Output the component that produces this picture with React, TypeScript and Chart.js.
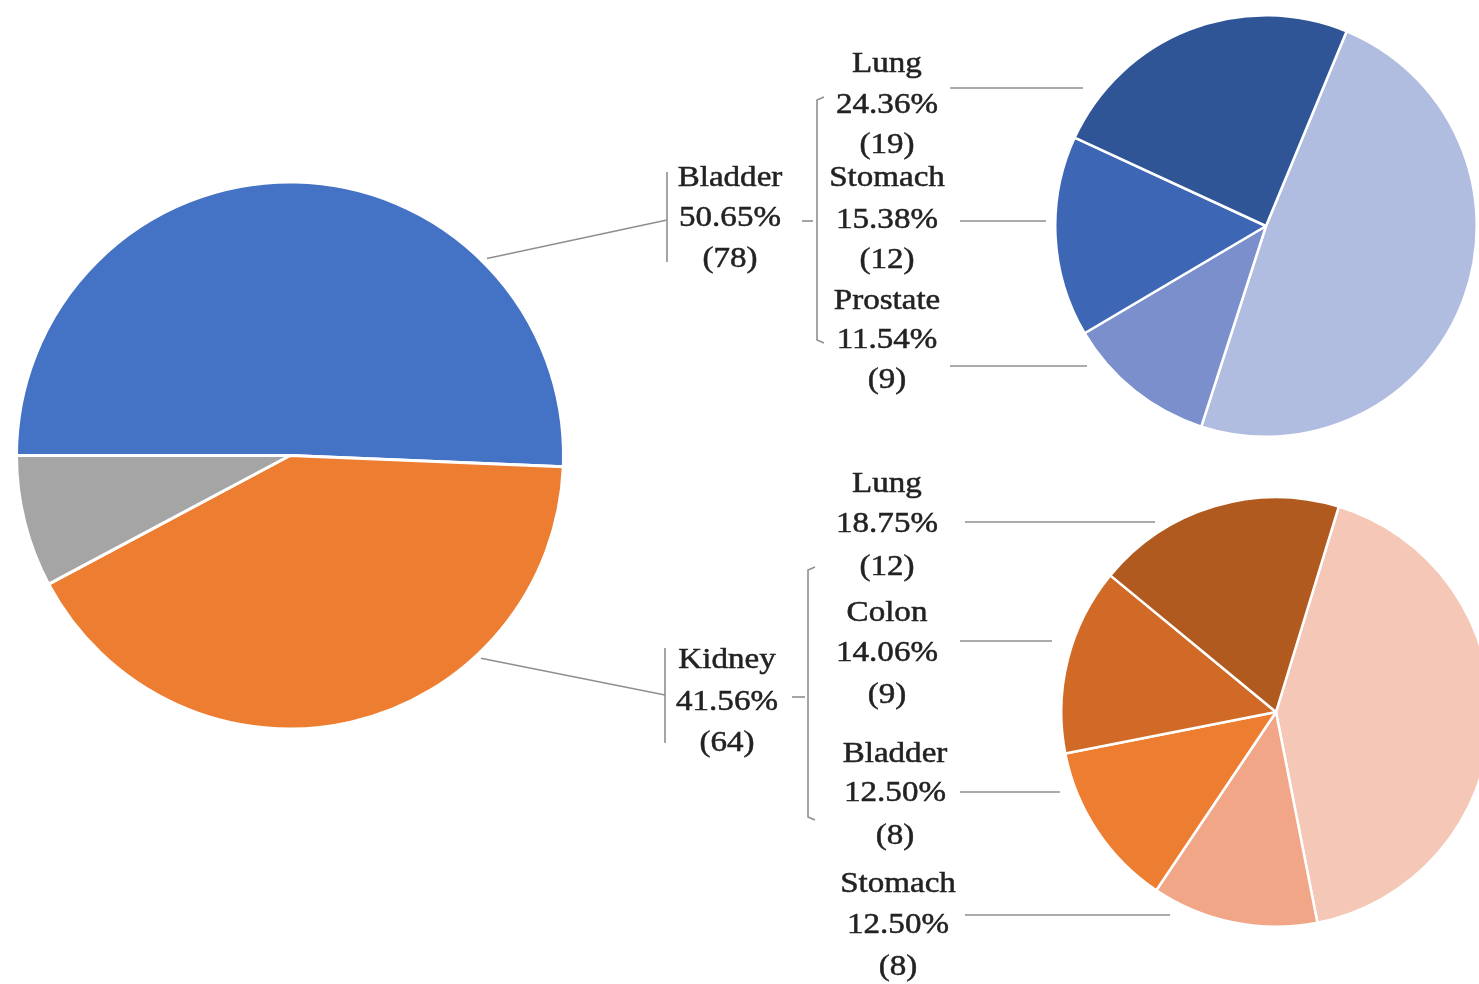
import { useEffect, useRef } from "react";
import { Chart, registerables } from "chart.js";

Chart.register(...registerables);

// ---------- data ----------
const mainCategories = ["Bladder", "Kidney", "Other"];
const mainCounts = [78, 64, 12];
const mainColors = ["#4472C4", "#ED7D31", "#A5A5A5"];

const bladderCategories = ["Other", "Prostate", "Stomach", "Lung"];
const bladderCounts = [38, 9, 12, 19];
const bladderColors = ["#B1BDE0", "#7A8FCC", "#3D67B5", "#2F5597"];
const bladderLabelOrder = ["Lung", "Stomach", "Prostate"];

const kidneyCategories = ["Other", "Stomach", "Bladder", "Colon", "Lung"];
const kidneyCounts = [27, 8, 8, 9, 12];
const kidneyColors = ["#F5C7B6", "#F0A687", "#ED7D31", "#D26A27", "#B05A1F"];
const kidneyLabelOrder = ["Lung", "Colon", "Bladder", "Stomach"];

// ---------- layout ----------
const W = 1479;
const H = 984;
const FONT_PX = 29;
const SCALE_X = 1.14;
const TEXT_COLOR = "#222222";
const LINE_COLOR = "#8f8f8f";

const bladderMainPos = { x: 730, ys: [178, 218, 259] };
const bladderSubPos = [
  { x: 887, ys: [64, 105, 145], leader: [950, 1083, 88] },
  { x: 887, ys: [178, 220, 260], leader: [960, 1046, 221] },
  { x: 887, ys: [301, 340, 380], leader: [950, 1087, 366] },
];
const bladderBrackets = {
  leftX: 667, leftY: [172, 262], joinY: 220, angle: -45,
  tick: [802, 813, 221],
  rightX: 817, rightY: [97, 343],
};

const kidneyMainPos = { x: 727, ys: [660, 702, 743] };
const kidneySubPos = [
  { x: 887, ys: [484, 524, 567], leader: [965, 1155, 522] },
  { x: 887, ys: [613, 653, 695], leader: [960, 1052, 641] },
  { x: 895, ys: [754, 793, 836], leader: [960, 1060, 792] },
  { x: 898, ys: [884, 925, 967], leader: [965, 1170, 915] },
];
const kidneyBrackets = {
  leftX: 665, leftY: [648, 743], joinY: 695, angle: 46.7,
  tick: [792, 805, 697],
  rightX: 808, rightY: [567, 820],
};

const pct = (v: number, arr: number[]) =>
  ((v / arr.reduce((a, b) => a + b, 0)) * 100).toFixed(2) + "%";

function drawText(ctx: CanvasRenderingContext2D, text: string, x: number, y: number) {
  ctx.save();
  ctx.translate(x, y);
  ctx.scale(SCALE_X, 1);
  ctx.strokeText(text, 0, 0);
  ctx.fillText(text, 0, 0);
  ctx.restore();
}

function line(ctx: CanvasRenderingContext2D, pts: number[][]) {
  ctx.beginPath();
  ctx.moveTo(pts[0][0], pts[0][1]);
  for (let i = 1; i < pts.length; i++) ctx.lineTo(pts[i][0], pts[i][1]);
  ctx.stroke();
}

const annotPlugin = {
  id: "annotations",
  afterDraw(chart: any) {
    const ctx: CanvasRenderingContext2D = chart.ctx;
    const arc = chart.getDatasetMeta(0).data[0] as any;
    const cx = arc.x;
    const cy = arc.y;
    const r = arc.outerRadius;

    const group = (
      mainIdx: number,
      mainPos: { x: number; ys: number[] },
      br: any,
      cats: string[],
      counts: number[],
      order: string[],
      subPos: { x: number; ys: number[]; leader: number[] }[]
    ) => {
      ctx.save();
      ctx.strokeStyle = LINE_COLOR;
      ctx.lineWidth = 1.6;
      const a = (br.angle * Math.PI) / 180;
      const sx = cx + (r + 5) * Math.cos(a);
      const sy = cy + (r + 5) * Math.sin(a);
      line(ctx, [[sx, sy], [br.leftX, br.joinY]]);
      line(ctx, [[br.leftX, br.leftY[0]], [br.leftX, br.leftY[1]]]);
      line(ctx, [[br.tick[0], br.tick[2]], [br.tick[1], br.tick[2]]]);
      line(ctx, [
        [br.rightX + 7, br.rightY[0]],
        [br.rightX, br.rightY[0] + 3],
        [br.rightX, br.rightY[1] - 3],
        [br.rightX + 7, br.rightY[1]],
      ]);
      order.forEach((_, k) => {
        const p = subPos[k];
        line(ctx, [[p.leader[0], p.leader[2]], [p.leader[1], p.leader[2]]]);
      });
      ctx.restore();

      ctx.save();
      ctx.fillStyle = TEXT_COLOR;
      ctx.strokeStyle = TEXT_COLOR;
      ctx.lineWidth = 0.5;
      ctx.font = `${FONT_PX}px "Liberation Serif", "Times New Roman", serif`;
      ctx.textAlign = "center";
      ctx.textBaseline = "middle";
      const mc = mainCounts[mainIdx];
      const mainLines = [mainCategories[mainIdx], pct(mc, mainCounts), `(${mc})`];
      mainLines.forEach((t, i) => drawText(ctx, t, mainPos.x, mainPos.ys[i]));
      order.forEach((name, k) => {
        const idx = cats.indexOf(name);
        const v = counts[idx];
        const p = subPos[k];
        [name, pct(v, counts), `(${v})`].forEach((t, i) => drawText(ctx, t, p.x, p.ys[i]));
      });
      ctx.restore();
    };

    group(0, bladderMainPos, bladderBrackets, bladderCategories, bladderCounts, bladderLabelOrder, bladderSubPos);
    group(1, kidneyMainPos, kidneyBrackets, kidneyCategories, kidneyCounts, kidneyLabelOrder, kidneySubPos);
  },
};

function makePie(
  canvas: HTMLCanvasElement,
  labels: string[],
  data: number[],
  colors: string[],
  rotation: number,
  borderWidth: number,
  padding: any,
  plugins: any[] = []
) {
  return new Chart(canvas, {
    type: "pie",
    data: {
      labels,
      datasets: [{ data, backgroundColor: colors, borderColor: "#ffffff", borderWidth }],
    },
    options: {
      responsive: false,
      maintainAspectRatio: false,
      animation: false,
      events: [],
      rotation,
      layout: { padding },
      plugins: { legend: { display: false }, tooltip: { enabled: false } },
    } as any,
    plugins,
  });
}

export default function App() {
  const mainRef = useRef<HTMLCanvasElement>(null);
  const topRef = useRef<HTMLCanvasElement>(null);
  const botRef = useRef<HTMLCanvasElement>(null);

  useEffect(() => {
    const charts: Chart[] = [];
    if (mainRef.current)
      charts.push(
        makePie(mainRef.current, mainCategories, mainCounts, mainColors, -90, 3,
          { left: 15, right: W - 565, top: 180, bottom: H - 731 }, [annotPlugin])
      );
    if (topRef.current)
      charts.push(makePie(topRef.current, bladderCategories, bladderCounts, bladderColors, 22.5, 2.5, 0));
    if (botRef.current)
      charts.push(makePie(botRef.current, kidneyCategories, kidneyCounts, kidneyColors, 17, 2.5, 0));
    return () => charts.forEach((c) => c.destroy());
  }, []);

  return (
    <div
      style={{
        position: "absolute",
        left: 0,
        top: 0,
        width: W,
        height: H,
        overflow: "hidden",
        background: "#ffffff",
      }}
    >
      <canvas ref={mainRef} width={W} height={H} style={{ position: "absolute", left: 0, top: 0 }} />
      <canvas ref={topRef} width={424} height={424} style={{ position: "absolute", left: 1054, top: 14 }} />
      <canvas ref={botRef} width={432} height={432} style={{ position: "absolute", left: 1060, top: 496 }} />
    </div>
  );
}
